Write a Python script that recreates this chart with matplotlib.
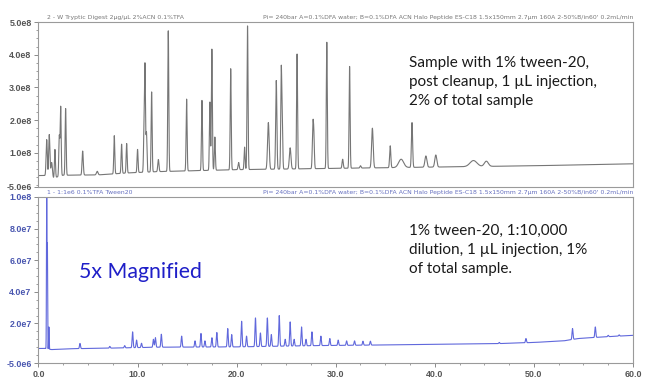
import numpy as np
import matplotlib.pyplot as plt
from matplotlib.ticker import MultipleLocator

# ---------------- DATA ----------------
# top trace: digest with 1% tween-20 after cleanup
top_peak_t = [0.83, 1.09, 1.33, 1.66, 2.10, 2.24, 2.74, 4.46, 5.93, 7.65,
              8.39, 8.90, 10.0, 10.65, 10.75, 10.9, 11.42, 12.1, 13.1, 14.95,
              16.5, 17.3, 17.5, 17.8, 19.4, 20.2, 20.8, 21.1, 23.2, 24.0,
              24.5, 24.6, 25.4, 26.1, 27.7, 27.8, 29.1, 30.7, 31.4, 32.5,
              33.7, 35.5, 36.6, 37.7, 39.1, 40.1, 43.9, 45.2]
top_peak_h = [1.40, 1.55, 0.70, 1.10, 1.50, 2.40, 2.35, 1.05, 0.43, 1.52,
              1.26, 1.28, 1.10, 1.55, 3.57, 1.60, 2.86, 0.79, 4.73, 2.64,
              2.60, 2.55, 4.17, 1.48, 3.57, 0.70, 1.17, 4.88, 1.92, 3.21,
              3.45, 1.95, 1.15, 4.02, 1.88, 1.30, 4.38, 0.80, 3.64, 0.60,
              1.75, 1.21, 0.80, 1.92, 0.90, 0.93, 0.76, 0.74]  # x1e8
top_peak_w = [0.06, 0.06, 0.08, 0.05, 0.05, 0.05, 0.05, 0.06, 0.08, 0.05,
              0.05, 0.05, 0.05, 0.05, 0.05, 0.05, 0.05, 0.06, 0.05, 0.05,
              0.05, 0.05, 0.05, 0.05, 0.05, 0.06, 0.05, 0.05, 0.08, 0.06,
              0.05, 0.05, 0.08, 0.05, 0.06, 0.05, 0.05, 0.06, 0.05, 0.06,
              0.08, 0.06, 0.25, 0.06, 0.10, 0.10, 0.35, 0.20]
top_base_t = [0, 0.7, 1.4, 1.8, 2.5, 6, 9, 12, 20, 30, 40, 50, 60]
top_base_v = [0.30, 0.30, 0.18, 0.25, 0.31, 0.32, 0.38, 0.42, 0.48, 0.52, 0.56, 0.60, 0.66]

# bottom trace: 1% tween-20, 1:10,000 dilution
bot_peak_t = [0.83, 0.90, 1.05, 4.19, 7.2, 8.7, 9.5, 9.9, 10.4, 11.6,
              11.8, 12.4, 14.45, 15.8, 16.4, 16.8, 17.5, 18.0, 19.1, 19.5,
              20.5, 21.0, 21.9, 22.4, 23.1, 23.5, 24.3, 24.9, 25.4, 25.8,
              26.55, 27.0, 27.6, 28.5, 29.4, 30.25, 31.1, 31.9, 32.75, 33.5,
              46.5, 49.2, 53.9, 56.2, 57.5, 58.6]
bot_peak_h = [11.0, 6.9, 1.78, 0.74, 0.55, 0.60, 1.47, 0.95, 0.75, 1.00,
              1.10, 1.32, 1.20, 0.90, 1.37, 0.90, 1.10, 1.43, 1.68, 1.30,
              2.14, 1.20, 2.35, 1.40, 2.35, 1.30, 2.50, 1.00, 2.10, 1.00,
              1.78, 1.00, 1.47, 1.20, 1.05, 0.95, 0.90, 0.90, 0.88, 0.88,
              0.80, 1.05, 1.68, 1.78, 1.25, 1.28]  # x1e7
bot_peak_w = [0.025, 0.02, 0.025] + [0.05] * 43
bot_base_t = [0, 0.7, 1.3, 3, 8, 12, 20, 28, 33, 40, 46, 50, 53, 54.5, 57, 60]
bot_base_v = [0.42, 0.42, 0.35, 0.40, 0.45, 0.50, 0.52, 0.60, 0.63, 0.68, 0.72,
              0.80, 0.90, 1.05, 1.15, 1.25]  # x1e7

header_top = "2 - W Tryptic Digest 2\u00b5g/\u00b5L 2%ACN 0.1%TFA"
header_bot = "1 - 1:1e6 0.1%TFA Tween20"
header_cond = ("Pi= 240bar A=0.1%DFA water; B=0.1%DFA ACN Halo Peptide ES-C18 "
               "1.5x150mm 2.7\u00b5m 160A 2-50%B/in60' 0.2mL/min")

top_yticks = [-5e6, 1e8, 2e8, 3e8, 4e8, 5e8]
top_ylabels = ["-5.0e6", "1.0e8", "2.0e8", "3.0e8", "4.0e8", "5.0e8"]
bot_yticks = [-5e6, 2e7, 4e7, 6e7, 8e7, 1e8]
bot_ylabels = ["-5.0e6", "2.0e7", "4.0e7", "6.0e7", "8.0e7", "1.0e8"]
xticks = [0, 10, 20, 30, 40, 50, 60]


def trace(peak_t, peak_h, peak_w, base_t, base_v, scale):
    t = np.linspace(0, 60, 12001)
    base = np.interp(t, base_t, base_v)
    y = base.copy()
    for pt, ph, pw in zip(peak_t, peak_h, peak_w):
        b0 = np.interp(pt, base_t, base_v)
        y += (ph - b0) * np.exp(-0.5 * ((t - pt) / pw) ** 2)
    return t, y * scale


# ---------------- FIGURE ----------------
fig = plt.figure(figsize=(6.5, 3.89), dpi=100)
ax1 = fig.add_axes([0.0592, 0.5193, 0.9146, 0.4241])
ax2 = fig.add_axes([0.0592, 0.0668, 0.9146, 0.4268])

tick_font = dict(family="Liberation Sans", weight="bold", size=6.4)
grey = "#555555"
blue_lbl = "#4a57b0"

t1, y1 = trace(top_peak_t, top_peak_h, top_peak_w, top_base_t, top_base_v, 1e8)
ax1.plot(t1, y1, color="#767676", lw=0.8)
ax1.set_xlim(0, 60)
ax1.set_ylim(-5e6, 5e8)
ax1.set_yticks(top_yticks)
ax1.set_yticklabels(top_ylabels, color=grey, **tick_font)
ax1.yaxis.set_minor_locator(MultipleLocator(2.5e7))
ax1.set_xticks([])

t2, y2 = trace(bot_peak_t, bot_peak_h, bot_peak_w, bot_base_t, bot_base_v, 1e7)
ax2.plot(t2, y2, color="#6068dc", lw=0.8)
ax2.set_xlim(0, 60)
ax2.set_ylim(-5e6, 1e8)
ax2.set_yticks(bot_yticks)
ax2.set_yticklabels(bot_ylabels, color=blue_lbl, **tick_font)
ax2.yaxis.set_minor_locator(MultipleLocator(5e6))
ax2.set_xticks(xticks)
ax2.set_xticklabels([f"{v:.1f}" for v in xticks], color=grey, **tick_font)
ax2.xaxis.set_minor_locator(MultipleLocator(2.5))

for ax in (ax1, ax2):
    for s in ax.spines.values():
        s.set_color("#9a9a9a")
        s.set_linewidth(0.8)
    ax.tick_params(which="major", length=3, width=0.6, color="#777777", pad=2)
    ax.tick_params(which="minor", length=1.5, width=0.5, color="#777777")

# header strips
ax1.text(0.014, 1.012, header_top, transform=ax1.transAxes, fontsize=4.4,
         color="#777777", va="bottom", ha="left")
ax1.text(1.0, 1.012, header_cond, transform=ax1.transAxes, fontsize=4.4,
         color="#777777", va="bottom", ha="right")
ax2.text(0.014, 1.01, header_bot, transform=ax2.transAxes, fontsize=4.4,
         color="#6670c0", va="bottom", ha="left")
ax2.text(1.0, 1.01, header_cond, transform=ax2.transAxes, fontsize=4.4,
         color="#6670c0", va="bottom", ha="right")

# annotations
ann_font = "Lato"
fig.text(409 / 650, 1 - 56 / 389,
         "Sample with 1% tween-20,\npost cleanup, 1 \u00b5L injection,\n2% of total sample",
         family=ann_font, fontsize=11, color="#1a1a1a", va="top", ha="left",
         linespacing=1.45)
fig.text(409 / 650, 1 - 224 / 389,
         "1% tween-20, 1:10,000\ndilution, 1 \u00b5L injection, 1%\nof total sample.",
         family=ann_font, fontsize=11, color="#1a1a1a", va="top", ha="left",
         linespacing=1.45)
fig.text(79 / 650, 1 - 272 / 389, "5x Magnified", family=ann_font,
         fontsize=15.3, color="#1f1fc8", va="center", ha="left")

fig.savefig("out.png", dpi=100)
